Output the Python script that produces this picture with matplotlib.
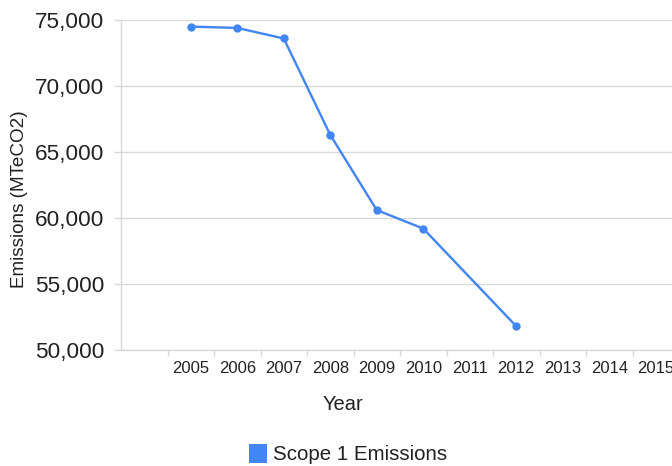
import numpy as np
import matplotlib
matplotlib.use("Agg")
import matplotlib.pyplot as plt
from matplotlib.patches import Patch
from matplotlib.ticker import FuncFormatter, FixedLocator

plt.rcParams['font.family'] = ['Liberation Sans', 'DejaVu Sans']

# Category axis: leading blank slot, then the reporting years
categories = ['', '2005', '2006', '2007', '2008', '2009', '2010',
              '2011', '2012', '2013', '2014', '2015']
# Scope 1 emissions (MTeCO2); None = no data for that year
emissions = [None, 74500, 74400, 73600, 66300, 60600, 59200,
             None, 51800, None, None, None]
series_name = 'Scope 1 Emissions'

line_color = '#4285f4'
grid_color = '#d9d9d9'
text_color = '#222222'

fig = plt.figure(figsize=(6.72, 4.66), dpi=100)
W, H = 672, 466
left_px, right_px, top_px, bottom_px = 121, 679, 20, 350
ax = fig.add_axes([left_px / W, 1 - bottom_px / H,
                   (right_px - left_px) / W, (bottom_px - top_px) / H])

x = np.arange(len(categories))
# connect across missing years, markers only on real values
xs = [i for i, v in enumerate(emissions) if v is not None]
ys = [v for v in emissions if v is not None]
ax.plot(xs, ys, color=line_color, lw=1.7, marker='o', ms=5,
        zorder=3, solid_capstyle='round')

ax.set_xlim(-0.5, len(categories) - 0.5)
ax.set_ylim(50000, 75000)

ax.set_yticks(np.arange(50000, 75001, 5000))
ax.yaxis.set_major_formatter(FuncFormatter(lambda v, p: f'{int(v):,}'))
ax.grid(axis='y', color=grid_color, lw=1.0)
ax.set_axisbelow(True)

ax.set_xticks(x)
ax.set_xticklabels(categories)
ax.xaxis.set_minor_locator(FixedLocator(x[:-1] + 0.5))
ax.tick_params(axis='x', which='major', length=0, pad=8, labelsize=12,
               labelcolor=text_color)
ax.tick_params(axis='x', which='minor', length=4, color=grid_color, width=1)
ax.tick_params(axis='y', length=5, color=grid_color, width=1, pad=7,
               labelsize=16.2, labelcolor=text_color)

for s in ['top', 'right']:
    ax.spines[s].set_visible(False)
for s in ['left', 'bottom']:
    ax.spines[s].set_color(grid_color)
    ax.spines[s].set_linewidth(1.0)

fig.text(20 / W, 1 - 199 / H, 'Emissions (MTeCO2)', rotation=90,
         ha='center', va='center', fontsize=13.6, color=text_color)
fig.text(343 / W, 1 - 405 / H, 'Year', ha='center', va='center',
         fontsize=14.5, color=text_color)

handle = Patch(facecolor=line_color, edgecolor='none')
fig.legend([handle], [series_name], loc='center',
           bbox_to_anchor=(348 / W, 1 - 454 / H), frameon=False,
           fontsize=14.8, handlelength=0.9, handleheight=1.1,
           handletextpad=0.3, labelcolor=text_color)

fig.savefig('out.png', dpi=100)
